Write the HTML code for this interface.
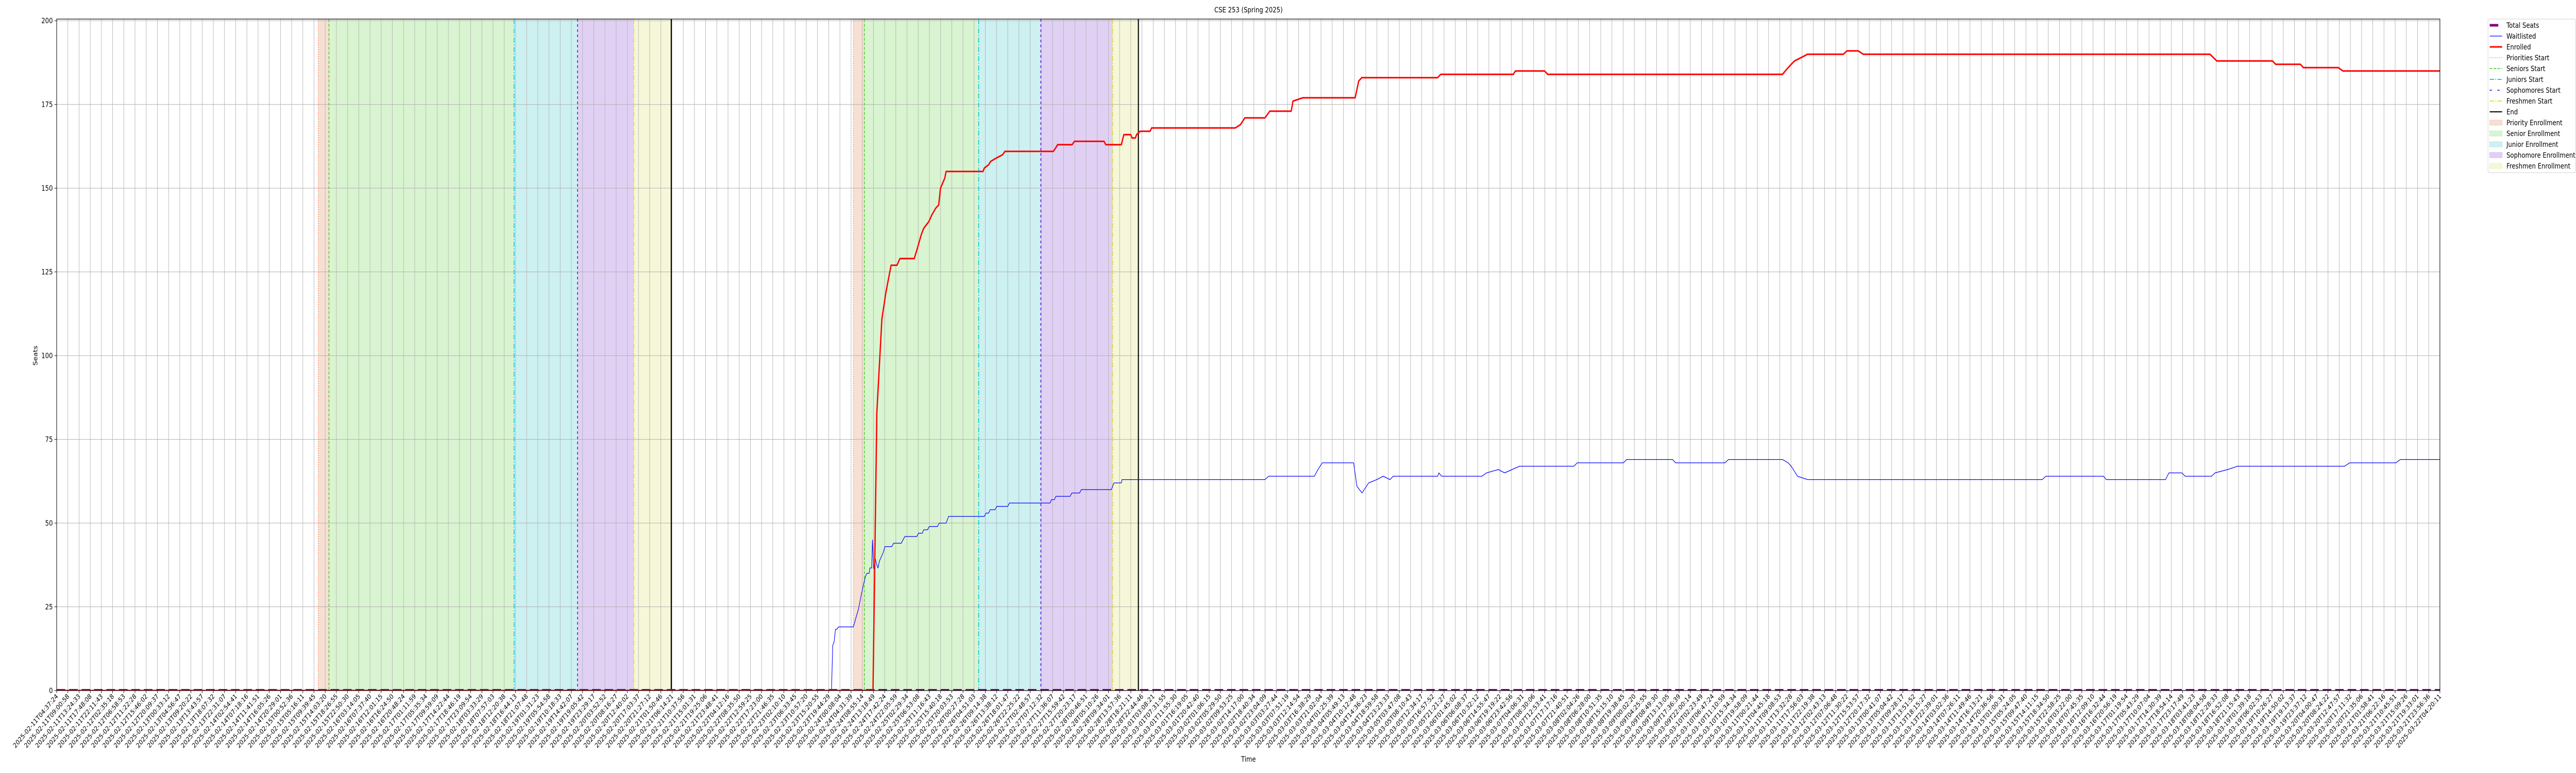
<!DOCTYPE html>
<html><head><meta charset="utf-8"><title>CSE 253 (Spring 2025)</title>
<style>
html,body{margin:0;padding:0;background:#fff;width:100%;height:100%;overflow:hidden;}
svg{display:block;font-family:"DejaVu Sans","Liberation Sans",sans-serif;width:100vw;height:100vh;overflow:hidden;}
</style></head>
<body>
<svg id="chart" viewBox="0 0 6000 1500" preserveAspectRatio="none" xmlns="http://www.w3.org/2000/svg">
<rect x="0" y="0" width="6000" height="1500" fill="#fff"/>
<text x="2908" y="24" font-size="14" text-anchor="middle" fill="#000">CSE 253 (Spring 2025)</text>
<g id="regions"></g>
<g id="grid"></g>
<g id="vlines"></g>
<defs><clipPath id="plotclip"><rect x="132" y="37" width="5551" height="1303"/></clipPath></defs>
<g id="series" clip-path="url(#plotclip)"></g>
<rect x="132" y="37" width="5551" height="1303" fill="none" stroke="#000" stroke-width="1.2"/>
<g id="yaxis"></g>
<g id="xaxis"></g>
<text x="0" y="0" font-size="14" text-anchor="middle" transform="translate(87,690) rotate(-90)">Seats</text>
<text x="2908" y="1478" font-size="14" text-anchor="middle">Time</text>
<g id="legend"></g>
</svg>
<script>
// ---- data (x in hours since 2025-02-11T04:37:24) ----
const enrolledX = [0,320.5,322.0,324.0,325.6,327.6,329.9,331.1,336.7,337.9,339.4,340.4,342.4,343.6,345.1,346.3,347.0,348.7,349.2,363.7,364.2,365.9,366.7,368.9,371.4,372.3,391.3,392.2,393.0,398.7,399.6,411.2,411.9,418.0,419.0,421.7,422.2,423.5,424.0,425.4,429.3,429.9,462.8,464.8,466.5,474.4,476.3,484.7,485.4,489.3,509.8,511.2,512.4,542.2,543.4,571.9,572.7,584.2,585.4,677.6,679.8,682.3,684.9,687.4,701.5,702.9,707.3,709.3,845.4,848.1,870.0,871.2,880.9,882.1,895.8,897.6,935.7];
const enrolledY = [0,0,83,111,119,127,127,129,129,132,136,138,140,142,144,145,150,153,155,155,156,157,158,159,160,161,161,162,163,163,164,164,163,163,166,166,165,165,166,167,167,168,168,169,171,171,173,173,176,177,177,182,183,183,184,184,185,185,184,184,186,188,189,190,190,191,191,190,190,188,188,187,187,186,186,185,185];
const waitX = [0,304.2,304.7,305.2,305.8,306.3,307.0,312.8,313.8,314.8,316.0,316.6,317.5,318.1,319.0,319.3,320.0,320.3,320.8,321.4,322.0,322.5,323.0,324.6,325.2,327.9,328.6,331.6,333.0,337.7,338.4,339.9,340.4,341.9,342.6,345.8,346.5,349.2,350.2,364.2,364.9,365.9,366.5,368.4,369.1,373.4,374.1,390.0,390.6,391.7,392.3,397.9,398.6,401.6,402.3,414.1,415.1,418.0,418.3,474.4,475.8,493.8,495.2,496.9,509.2,510.5,512.5,515.1,518.3,520.8,523.5,524.7,542.2,542.7,543.7,559.6,561.4,566.0,568.5,574.4,595.7,597.0,615.1,616.4,634.4,635.6,655.0,656.4,677.6,679.8,681.0,683.5,687.4,779.6,781.0,803.6,804.7,828.0,829.3,834.4,835.7,846.0,847.4,852.4,856.3,898.3,900.3,918.4,920.2,935.7];
const waitY = [0,0,13.5,14.4,18.3,18.3,19,19,21.7,24.3,29,31,34,35,35,36.6,36.6,45,36.4,39.4,37.5,36.6,38.6,41.4,43,43,44,44,46,46,47,47,48,48,49,49,50,50,52,52,53,53,54,54,55,55,56,56,57,57,58,58,59,59,60,60,62,62,63,63,64,64,66,68,68,61,59,62,63,64,63,64,64,65,64,64,65,66,65,67,67,68,68,69,69,68,68,69,69,68,67,64,63,63,64,64,63,63,65,65,64,64,65,66,67,67,68,68,69,69];
const totalSeats = [0,0];
const totalX = [0,935.7];
const phaseNames = ["Priority","Senior","Junior","Sophomore","Freshmen","End"];
const period1 = [102.7,106.9,179.6,204.5,226.6,241.3];
const period2 = [312.8,317.1,362.0,386.4,414.6,424.7];
const yTicks = [0,25,50,75,100,125,150,175,200];
const tickCount = 214;
const tickStartISO = "2025-02-11T04:37:24Z";
const tickEndISO = "2025-03-22T04:20:11Z";

// ---- axes ----
const X0=132, X1=5683, Y0=1340, Y1=37;
const xMax = 935.7, yMin=0, yMax=200.5;
function xs(h){return X0 + h/xMax*(X1-X0);}
function ys(v){return Y0 - (v-yMin)/(yMax-yMin)*(Y0-Y1);}
const NS="http://www.w3.org/2000/svg";
function mk(tag,attrs,parent){const e=document.createElementNS(NS,tag);for(const k in attrs)e.setAttribute(k,attrs[k]);parent.appendChild(e);return e;}

// regions
const regColors=["#f7dfd3","#d9f4d0","#cdf0f1","#e0d1f4","#f6f7d8"];
const regG=document.getElementById('regions');
[period1,period2].forEach((p,pi)=>{
  for(let i=0;i<5;i++){
    const r=mk('rect',{x:xs(p[i]),y:Y1,width:xs(p[i+1])-xs(p[i]),height:Y0-Y1,fill:regColors[i]},regG);
    
    
  }
});

// grid
const gridG=document.getElementById('grid');
const xg=document.getElementById('xaxis');
const t0=Date.parse(tickStartISO), t1=Date.parse(tickEndISO);
function pad(n){return String(n).padStart(2,'0');}
for(let i=0;i<tickCount;i++){
  const h=i*xMax/(tickCount-1);
  const x=xs(h);
  const gl=mk('line',{x1:x,y1:Y1,x2:x,y2:Y0,stroke:"#b0b0b0","stroke-width":1},gridG);
  
  
  mk('line',{x1:x,y1:Y0,x2:x,y2:Y0+5,stroke:"#000","stroke-width":1},xg);
  const d=new Date(t0+(t1-t0)*i/(tickCount-1));
  const lab=d.getUTCFullYear()+"-"+pad(d.getUTCMonth()+1)+"-"+pad(d.getUTCDate())+"T"+pad(d.getUTCHours())+":"+pad(d.getUTCMinutes())+":"+pad(d.getUTCSeconds());
  const t=mk('text',{x:0,y:0,"font-size":13,"text-anchor":"end",transform:`translate(${x+4},${Y0+12}) rotate(-45)`},xg);
  t.textContent=lab;
  
  
}
const yg=document.getElementById('yaxis');
yTicks.forEach(v=>{
  const y=ys(v);
  const gl=mk('line',{x1:X0,y1:y,x2:X1,y2:y,stroke:"#b0b0b0","stroke-width":1},gridG);
  
  
  mk('line',{x1:X0-5,y1:y,x2:X0,y2:y,stroke:"#000","stroke-width":1},yg);
  const t=mk('text',{x:X0-9,y:y+5,"font-size":14,"text-anchor":"end"},yg);
  t.textContent=v;
  
  
});

// phase lines
const vG=document.getElementById('vlines');
const lineStyles=[
  {c:"#ff6a3d",d:"1.5,3",w:1.5},
  {c:"#33cc11",d:"6,3",w:1.5},
  {c:"#00c8d2",d:"10,3,2,3",w:1.8},
  {c:"#7020e0",d:"5,5",w:2},
  {c:"#dede20",d:"10,3,2,3",w:1.8},
  {c:"#000",d:"",w:2.5}
];
[period1,period2].forEach((p,pi)=>{
  p.forEach((h,i)=>{
    const s=lineStyles[i];
    const l=mk('line',{x1:xs(h),y1:Y1,x2:xs(h),y2:Y0,stroke:s.c,"stroke-width":s.w},vG);
    if(s.d) l.setAttribute('stroke-dasharray',s.d);
    
    
  });
});

// series
const sG=document.getElementById('series');
function pathFrom(xsArr,ysArr){return xsArr.map((h,i)=>(i?'L':'M')+xs(h).toFixed(1)+','+ys(ysArr[i]).toFixed(1)).join(' ');}
const ts=mk('path',{d:pathFrom(totalX,totalSeats),fill:"none",stroke:"#800080","stroke-width":6,"stroke-dasharray":"20,9"},sG);


const wl=mk('path',{d:pathFrom(waitX,waitY),fill:"none",stroke:"#0000ff","stroke-width":1.3,"stroke-linejoin":"round"},sG);


const el=mk('path',{d:pathFrom(enrolledX,enrolledY),fill:"none",stroke:"#ff0000","stroke-width":3,"stroke-linejoin":"round"},sG);



// legend
const lg=document.getElementById('legend');
mk('rect',{x:5795,y:37,width:204,height:298,rx:3,fill:"#fff",stroke:"#d0d0d0","stroke-width":1},lg);
const entries=[
  {t:"Total Seats",type:"line",c:"#800080",w:5,d:"",x2:5819},
  {t:"Waitlisted",type:"line",c:"#0000ff",w:1.3,d:""},
  {t:"Enrolled",type:"line",c:"#ff0000",w:3,d:""},
  {t:"Priorities Start",type:"line",c:"#ff6a3d",w:1.5,d:"1.5,3"},
  {t:"Seniors Start",type:"line",c:"#33cc11",w:1.5,d:"6,3"},
  {t:"Juniors Start",type:"line",c:"#00c8d2",w:1.8,d:"10,3,2,3"},
  {t:"Sophomores Start",type:"line",c:"#7020e0",w:2,d:"5,13"},
  {t:"Freshmen Start",type:"line",c:"#dede20",w:1.8,d:"10,3,2,3"},
  {t:"End",type:"line",c:"#000",w:2,d:""},
  {t:"Priority Enrollment",type:"patch",c:"#f7dfd3",s:"#f2cfc0"},
  {t:"Senior Enrollment",type:"patch",c:"#d9f4d0",s:"#c8eebc"},
  {t:"Junior Enrollment",type:"patch",c:"#cdf0f1",s:"#b8e8ea"},
  {t:"Sophomore Enrollment",type:"patch",c:"#e0d1f4",s:"#d2bfee"},
  {t:"Freshmen Enrollment",type:"patch",c:"#f6f7d8",s:"#eeefc4"}
];
entries.forEach((e,i)=>{
  const y=49+i*21;
  const g=mk('g',{},lg);
  
  
  if(e.type==="line"){
    const l=mk('line',{x1:5799,y1:y,x2:e.x2||5828,y2:y,stroke:e.c,"stroke-width":e.w},g);
    if(e.d) l.setAttribute('stroke-dasharray',e.d);
  } else {
    mk('rect',{x:5799,y:y-5,width:29,height:10,fill:e.c,stroke:e.s,"stroke-width":1},g);
  }
  const t=mk('text',{x:5838,y:y+5,"font-size":14},g);
  t.textContent=e.t;
});
</script>
</body></html>
